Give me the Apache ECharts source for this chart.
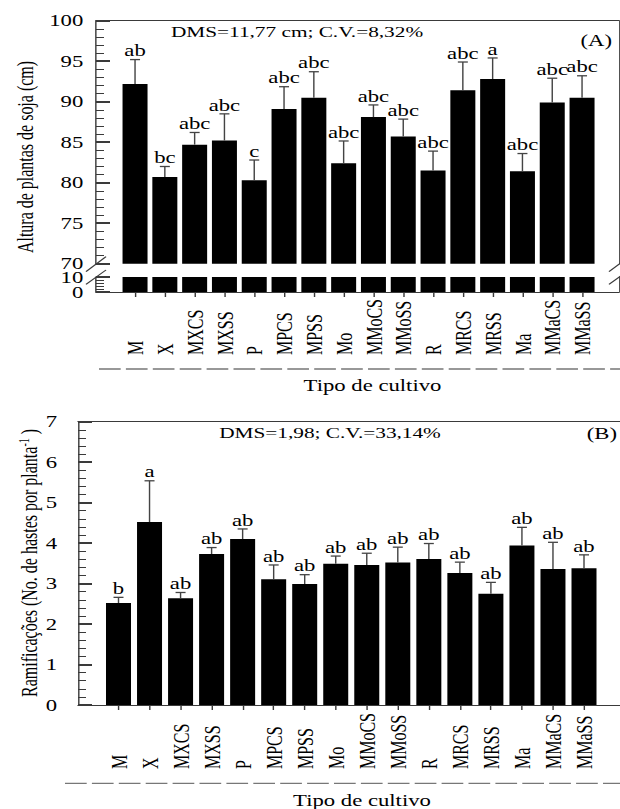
<!DOCTYPE html>
<html>
<head>
<meta charset="utf-8">
<script src="https://cdn.jsdelivr.net/npm/echarts@6/dist/echarts.min.js"></script>
<style>
  html, body { margin: 0; padding: 0; background: #fff; overflow: hidden; }
  #chart { height: 809px; transform-origin: 0 0; }
</style>
</head>
<body>
<div id="chart"></div>
<script>
// Treatments (cultivation types)
const categories = ['M', 'X', 'MXCS', 'MXSS', 'P', 'MPCS', 'MPSS', 'Mo', 'MMoCS', 'MMoSS', 'R', 'MRCS', 'MRSS', 'Ma', 'MMaCS', 'MMaSS'];

// (A) plant height, cm
const alturaMean = [92.2, 80.7, 84.7, 85.2, 80.3, 89.1, 90.5, 82.4, 88.1, 85.7, 81.5, 91.4, 92.8, 81.4, 89.9, 90.5];
const alturaErr = [3.0, 1.3, 1.5, 3.3, 2.5, 2.75, 3.2, 2.75, 1.5, 2.15, 2.4, 3.5, 2.6, 2.2, 3.0, 2.7];
const alturaLetters = ['ab', 'bc', 'abc', 'abc', 'c', 'abc', 'abc', 'abc', 'abc', 'abc', 'abc', 'abc', 'a', 'abc', 'abc', 'abc'];

// (B) branches per plant
const ramMean = [2.52, 4.52, 2.64, 3.73, 4.10, 3.11, 2.99, 3.49, 3.46, 3.52, 3.61, 3.26, 2.75, 3.94, 3.36, 3.38];
const ramErr = [0.14, 1.02, 0.14, 0.16, 0.25, 0.35, 0.23, 0.19, 0.29, 0.38, 0.38, 0.27, 0.28, 0.45, 0.66, 0.33];
const ramLetters = ['b', 'a', 'ab', 'ab', 'ab', 'ab', 'ab', 'ab', 'ab', 'ab', 'ab', 'ab', 'ab', 'ab', 'ab', 'ab'];

// Axis ticks
const alturaUpperTicks = { min: 70, max: 100, interval: 5 };
const alturaLowerTicks = { min: 0, max: 10, interval: 10 };
const ramTicks = { min: 0, max: 7, interval: 1 };

// The figure is drawn narrow and stretched horizontally
const S = 1.42;
const W = 620 / S;
const FONT = '"Liberation Serif", "Times New Roman", serif';
const LINE = '#3a3a3a';
const ERR = '#444';

const el = document.getElementById('chart');
el.style.width = W + 'px';
el.style.transform = 'scaleX(' + S + ')';

// layout (px)
const A = { left: 96 / S, right: 619 / S, top: 20.7, mid: 263.7, lowTop: 277, bottom: 292 };
const B = { left: 78 / S, right: W, top: 421.7, bottom: 705 };
const A_X = { min: -1.31, max: 16.24 };
const B_X = { min: -1.305, max: 16.16 };
const BAR_W = 25 / S;
const CAP = 10 / S;
const idx = categories.map((c, i) => i);

function leftAxis(grid, t, margin, labelExtra) {
  return {
    type: 'value', gridIndex: grid, position: 'left',
    min: t.min, max: t.max, interval: t.interval,
    axisLine: { show: true, onZero: false, lineStyle: { color: LINE, width: 1 } },
    axisTick: { show: true, inside: true, length: 14 / S, lineStyle: { color: LINE, width: 2 } },
    minorTick: { show: true, splitNumber: 5, length: 8 / S, lineStyle: { color: LINE, width: 1 } },
    axisLabel: Object.assign({
      show: true, margin: margin, color: '#000', fontFamily: FONT, fontSize: 16,
      showMinLabel: true, showMaxLabel: true, hideOverlap: false
    }, labelExtra || {}),
    splitLine: { show: false }, minorSplitLine: { show: false }
  };
}
// a label-only axis (used for a second label on the short lower segment)
function labelAxis(grid, t, margin, labelExtra) {
  return {
    type: 'value', gridIndex: grid, position: 'left',
    min: t.min, max: t.max, interval: t.interval,
    axisLine: { show: false, onZero: false }, axisTick: { show: false }, minorTick: { show: false },
    axisLabel: Object.assign({
      show: true, margin: margin, color: '#000', fontFamily: FONT, fontSize: 16,
      showMinLabel: true, showMaxLabel: true, hideOverlap: false
    }, labelExtra || {}),
    splitLine: { show: false }
  };
}
function plainAxis(grid, position, range) {
  return {
    type: 'value', gridIndex: grid, position: position,
    min: range.min, max: range.max,
    axisLine: { show: true, onZero: false, lineStyle: { color: LINE, width: 1 } },
    axisTick: { show: false }, axisLabel: { show: false },
    splitLine: { show: false }, minorTick: { show: false }
  };
}
function categoryAxis(grid, range, margin) {
  return {
    type: 'value', gridIndex: grid, position: 'bottom',
    min: range.min, max: range.max,
    axisLine: { show: true, onZero: false, lineStyle: { color: LINE, width: 1 } },
    axisTick: { show: true, customValues: idx, length: 5, lineStyle: { color: LINE, width: 1 } },
    axisLabel: {
      show: true, customValues: idx, rotate: 90, align: 'left', margin: margin,
      formatter: v => categories[Math.round(v)] || '',
      color: '#000', fontFamily: FONT, fontSize: 16, hideOverlap: false
    },
    splitLine: { show: false }, minorTick: { show: false }
  };
}
function bars(xi, yi, values) {
  return {
    type: 'bar', xAxisIndex: xi, yAxisIndex: yi, silent: true, clip: true,
    barWidth: BAR_W, itemStyle: { color: '#000' },
    data: values.map((v, i) => [i, v])
  };
}
function errorBars(xi, yi, mean, err, letters) {
  return {
    type: 'custom', xAxisIndex: xi, yAxisIndex: yi, silent: true, z: 5,
    data: mean.map((m, i) => [i, m, err[i]]),
    encode: { x: 0, y: 1 },
    renderItem(params, api) {
      const x = api.value(0), m = api.value(1), e = api.value(2);
      const base = api.coord([x, m]);
      const top = api.coord([x, m + e]);
      return {
        type: 'group',
        children: [
          { type: 'line', shape: { x1: base[0], y1: base[1], x2: top[0], y2: top[1] }, style: { stroke: ERR, lineWidth: 1 } },
          { type: 'line', shape: { x1: top[0] - CAP / 2, y1: top[1], x2: top[0] + CAP / 2, y2: top[1] }, style: { stroke: ERR, lineWidth: 1.3 } },
          { type: 'text', x: top[0], y: top[1] - 1, style: { text: letters[params.dataIndex], align: 'center', verticalAlign: 'bottom', fontFamily: FONT, fontSize: 16, fill: '#000' } }
        ]
      };
    }
  };
}
function text(x, y, str, opts, rotation) {
  return {
    type: 'text', x: x, y: y, silent: true, rotation: rotation || 0,
    style: Object.assign({ text: str, fontFamily: FONT, fontSize: 16, fill: '#000', align: 'center', verticalAlign: 'middle' }, opts || {})
  };
}
function line(x1, y1, x2, y2, style) {
  return { type: 'line', silent: true, shape: { x1, y1, x2, y2 }, style: Object.assign({ stroke: LINE, lineWidth: 1 }, style || {}) };
}
// diagonal break marks across an axis at x
function breakMarks(x) {
  const hw = 20 / S / 2;
  return [
    line(x - hw, A.mid + 8, x + hw, A.mid - 7),
    line(x - hw, A.lowTop + 7.3, x + hw, A.lowTop - 7)
  ];
}

const chart = echarts.init(el, null, { renderer: 'svg', width: W, height: 809 });

chart.setOption({
  animation: false,
  backgroundColor: '#fff',
  grid: [
    { left: A.left, top: A.top, width: A.right - A.left, height: A.mid - A.top, outerBoundsMode: 'none', containLabel: false },
    { left: A.left, top: A.lowTop, width: A.right - A.left, height: A.bottom - A.lowTop, outerBoundsMode: 'none', containLabel: false },
    { left: B.left, top: B.top, width: B.right - B.left, height: B.bottom - B.top, outerBoundsMode: 'none', containLabel: false }
  ],
  xAxis: [
    plainAxis(0, 'top', A_X),
    categoryAxis(1, A_X, 63),
    categoryAxis(2, B_X, 64),
    plainAxis(2, 'top', B_X)
  ],
  yAxis: [
    leftAxis(0, alturaUpperTicks, 12.7 / S),
    plainAxis(0, 'right', alturaUpperTicks),
    leftAxis(1, alturaLowerTicks, 12.7 / S, { customValues: [alturaLowerTicks.max], padding: [0, 0, 7, 0] }),
    plainAxis(1, 'right', alturaLowerTicks),
    leftAxis(2, ramTicks, 21 / S),
    labelAxis(1, alturaLowerTicks, 12.7 / S, { customValues: [alturaLowerTicks.min], padding: [0, 0, 4, 0] })
  ],
  series: [
    bars(0, 0, alturaMean),
    bars(1, 2, alturaMean),
    errorBars(0, 0, alturaMean, alturaErr, alturaLetters),
    bars(2, 4, ramMean),
    errorBars(2, 4, ramMean, ramErr, ramLetters)
  ],
  graphic: [
    // axis titles
    text(25 / S, 157, 'Altura de plantas de soja (cm)', {}, Math.PI / 2),
    text(29 / S, 563, 'Ramificações (No. de hastes por planta{sup|-1} )', {
      rich: { sup: { fontFamily: FONT, fontSize: 10, verticalAlign: 'top', fill: '#000' } }
    }, Math.PI / 2),
    text(372.5 / S, 385, 'Tipo de cultivo'),
    text(362 / S, 800, 'Tipo de cultivo'),
    // statistics and panel tags
    text(297 / S, 31.7, 'DMS=11,77 cm; C.V.=8,32%', { fontSize: 15 }),
    text(612 / S, 40, '(A)', { align: 'right' }),
    text(330 / S, 433.3, 'DMS=1,98; C.V.=33,14%', { fontSize: 15 }),
    text(617 / S, 433, '(B)', { align: 'right' }),
    // dashed rules under the category labels
    line(99 / S, 369, W, 369, { stroke: '#777', lineWidth: 1.3, lineDash: [21.7 / S, 5.2 / S] }),
    line(65 / S, 783.3, W, 783.3, { stroke: '#777', lineWidth: 1.3, lineDash: [21.7 / S, 5.2 / S] }),
    // break marks on the height axis
    ...breakMarks(A.left),
    ...breakMarks(A.right)
  ]
});
</script>
</body>
</html>
